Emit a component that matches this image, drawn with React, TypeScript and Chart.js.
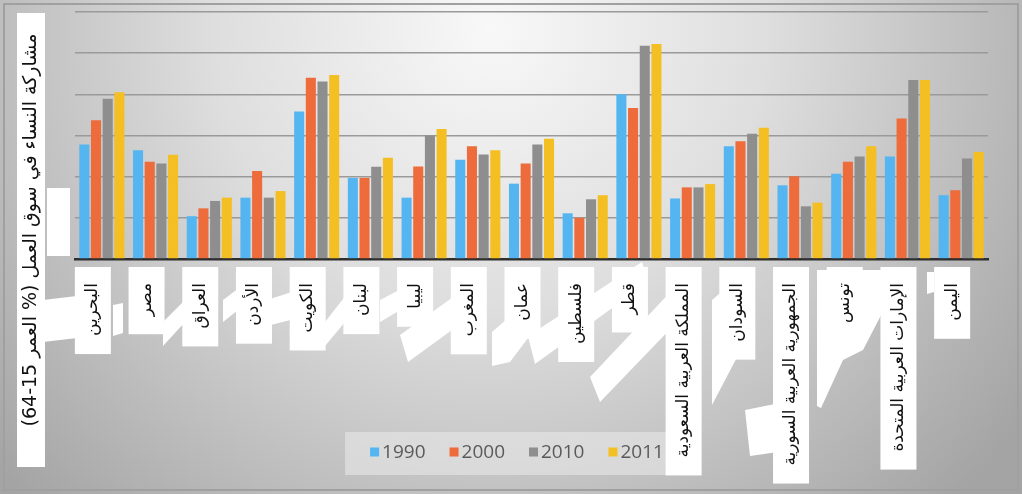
import React, { useEffect, useRef } from "react";
import { Chart, registerables } from "chart.js";

Chart.register(...registerables);

const categories = [
  "البحرين",
  "مصر",
  "العراق",
  "الأردن",
  "الكويت",
  "لبنان",
  "ليبيا",
  "المغرب",
  "عمان",
  "فلسطين",
  "قطر",
  "المملكة العربية السعودية",
  "السودان",
  "الجمهورية العربية السورية",
  "تونس",
  "الإمارات العربية المتحدة",
  "اليمن",
];
const seriesNames = ["1990", "2000", "2010", "2011"];
const values1990 = [27.8, 26.4, 10.4, 14.9, 35.8, 19.7, 14.9, 24.1, 18.3, 11.1, 40.0, 14.7, 27.4, 17.9, 20.7, 24.9, 15.5];
const values2000 = [33.7, 23.6, 12.3, 21.4, 44.0, 19.7, 22.5, 27.4, 23.2, 10.0, 36.7, 17.4, 28.6, 20.1, 23.6, 34.1, 16.7];
const values2010 = [38.9, 23.2, 14.1, 14.9, 43.1, 22.4, 30.0, 25.4, 27.8, 14.5, 51.8, 17.4, 30.4, 12.8, 24.9, 43.5, 24.4];
const values2011 = [40.5, 25.3, 14.9, 16.5, 44.7, 24.6, 31.6, 26.4, 29.2, 15.5, 52.2, 18.2, 31.9, 13.7, 27.4, 43.5, 26.0];
const yMin = 0;
const yMax = 60;
const yStep = 10;
const yTitle = "مشاركة النساء في سوق العمل (% العمر 15-64)";
const seriesColors = ["#55b5f0", "#ee6b3b", "#8e8e8e", "#f4bf22"];

const W = 1022;
const H = 494;
const LABEL_FONT_SIZE = 17;
const LABEL_FONT = `${LABEL_FONT_SIZE}px 'DejaVu Sans'`;

// white scraps of the pasted picture (decoration only)
const scraps: number[][][] = [
  [[47, 188], [70, 188], [70, 256], [47, 256]],
  [[43, 300], [77, 296], [77, 338], [43, 342]],
  [[113, 305], [123, 303], [123, 333], [113, 336]],
  [[163, 322], [185, 300], [185, 322], [163, 346]],
  [[223, 300], [243, 285], [243, 306], [223, 322]],
  [[267, 300], [298, 290], [298, 318], [267, 326]],
  [[325, 322], [350, 290], [350, 316], [325, 346]],
  [[380, 300], [407, 286], [407, 306], [380, 322]],
  [[400, 335], [463, 290], [463, 322], [408, 362]],
  [[492, 332], [540, 290], [540, 322], [510, 362], [492, 366]],
  [[528, 336], [642, 262], [648, 282], [535, 364]],
  [[590, 377], [677, 285], [677, 322], [600, 402]],
  [[712, 300], [745, 272], [745, 342], [712, 405]],
  [[745, 410], [775, 404], [778, 452], [750, 456]],
  [[817, 270], [893, 270], [893, 292], [863, 350], [843, 360], [821, 408], [817, 406]],
  [[927, 272], [934, 272], [934, 292], [927, 294]],
];

const decorPlugin = {
  id: "decor",
  beforeDraw(chart: any) {
    const ctx = chart.ctx;
    ctx.save();
    const g = ctx.createRadialGradient(490, 30, 0, 490, 30, 660);
    g.addColorStop(0, "#f8f8f8");
    g.addColorStop(0.42, "#dedede");
    g.addColorStop(1, "#a4a4a4");
    ctx.fillStyle = g;
    ctx.fillRect(0, 0, W, H);
    ctx.strokeStyle = "#a0a0a0";
    ctx.lineWidth = 2;
    ctx.strokeRect(4, 4, W - 8, H - 8);

    ctx.fillStyle = "#ffffff";
    scraps.forEach((poly) => {
      ctx.beginPath();
      poly.forEach(([x, y], k) => (k ? ctx.lineTo(x, y) : ctx.moveTo(x, y)));
      ctx.closePath();
      ctx.fill();
    });

    // legend (custom, from the datasets)
    ctx.font = "19px 'Open Sans'";
    const ds = chart.data.datasets;
    const widths = ds.map((d: any) => ctx.measureText(d.label).width);
    const box = 9, gap = 3, space = 24;
    const total = widths.reduce((a: number, w: number) => a + box + gap + w, 0) + space * (ds.length - 1);
    let x = 517 - total / 2;
    const cy = 452;
    ctx.fillStyle = "rgba(232,232,232,0.6)";
    ctx.fillRect(x - 25, 432, total + 37, 43);
    ctx.textBaseline = "middle";
    ctx.textAlign = "left";
    ds.forEach((d: any, i: number) => {
      ctx.fillStyle = d.backgroundColor;
      ctx.fillRect(x, cy - 4.5, box, box);
      ctx.fillStyle = "#5a5a5a";
      ctx.fillText(d.label, x + box + gap, cy + 1);
      x += box + gap + widths[i] + space;
    });

    // y title
    ctx.fillStyle = "#ffffff";
    ctx.fillRect(17, 13, 28, 454);
    ctx.translate(31, 230);
    ctx.rotate(-Math.PI / 2);
    ctx.font = "19px 'DejaVu Sans'";
    ctx.fillStyle = "#111111";
    ctx.textAlign = "center";
    ctx.textBaseline = "middle";
    (ctx as any).direction = "rtl";
    ctx.fillText(yTitle, 0, 0);
    ctx.restore();
  },
  afterLayout(chart: any) {
    // let rotated tick labels run to the bottom of the canvas
    chart.scales.x.bottom = chart.height;
  },
  afterDatasetsDraw(chart: any) {
    const ctx = chart.ctx;
    const xs = chart.scales.x;
    ctx.save();
    ctx.font = LABEL_FONT;
    ctx.fillStyle = "#ffffff";
    const top = chart.chartArea.bottom;
    categories.forEach((c, i) => {
      const x = xs.getPixelForTick(i) - 9;
      const w = ctx.measureText(c).width;
      ctx.fillRect(x - 18, top + 8, 36, Math.min(24 + w + 18 - 8, H - top - 12));
    });
    ctx.restore();
  },
};

export default function App() {
  const ref = useRef<HTMLCanvasElement | null>(null);
  useEffect(() => {
    if (!ref.current) return;
    const datasets = [values1990, values2000, values2010, values2011].map((v, i) => ({
      label: seriesNames[i],
      data: v,
      backgroundColor: seriesColors[i],
      borderWidth: 0,
      categoryPercentage: 0.87,
      barPercentage: 0.86,
    }));
    const chart = new Chart(ref.current, {
      type: "bar",
      data: { labels: categories, datasets },
      plugins: [decorPlugin],
      options: {
        animation: false,
        responsive: false,
        maintainAspectRatio: false,
        layout: { padding: { top: 12, left: 75, right: 34, bottom: 0 } },
        plugins: {
          legend: { display: false },
          tooltip: { enabled: false },
        },
        scales: {
          x: {
            grid: { display: false, drawTicks: false },
            border: { display: true, color: "#2e2e2e", width: 2.5 },
            ticks: {
              minRotation: 90,
              maxRotation: 90,
              autoSkip: false,
              padding: 24,
              labelOffset: -9,
              color: "#111111",
              font: { size: LABEL_FONT_SIZE, family: "'DejaVu Sans'" },
              z: 1,
            },
            afterFit: (s: any) => {
              s.height = 235;
            },
          },
          y: {
            min: yMin,
            max: yMax,
            ticks: { display: false, stepSize: yStep },
            grid: { color: "#9a9a9a", lineWidth: 1.6, drawTicks: false },
            border: { display: false },
            afterFit: (s: any) => {
              s.width = 0;
            },
          },
        },
      },
    });
    return () => chart.destroy();
  }, []);
  return (
    <div style={{ position: "fixed", left: 0, top: 0, width: W, height: H }}>
      <canvas ref={ref} width={W} height={H} style={{ width: W, height: H, display: "block" }} />
    </div>
  );
}
